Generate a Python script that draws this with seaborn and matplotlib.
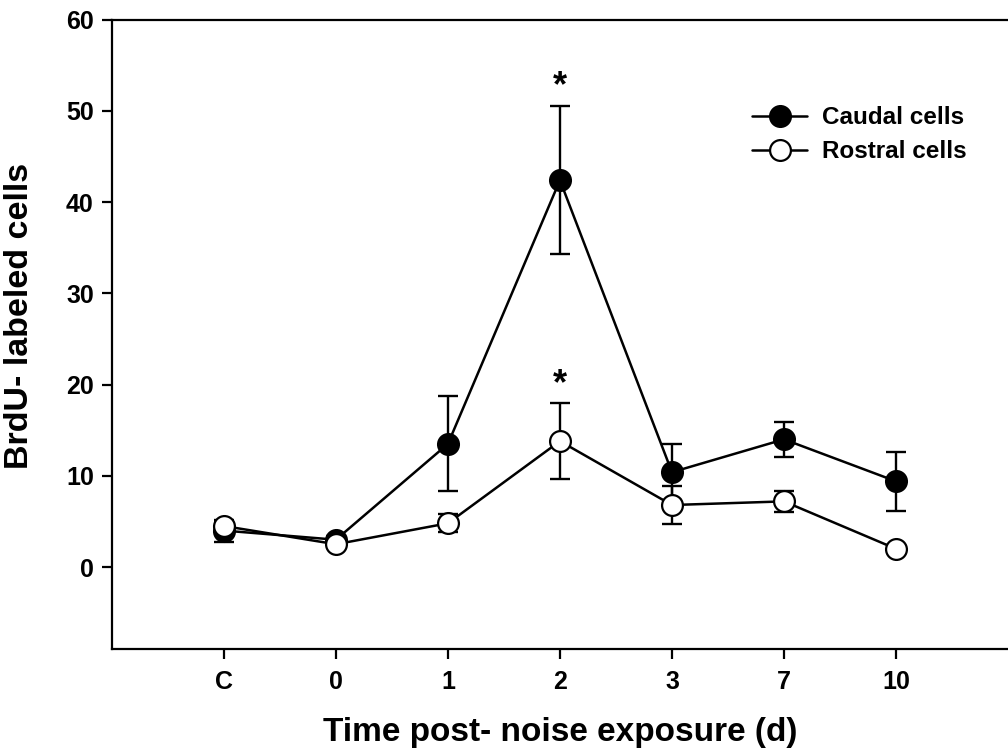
import seaborn as sns
import matplotlib.pyplot as plt
import pandas as pd
import numpy as np

# Data
days = ['C', '0', '1', '2', '3', '7', '10']
caudal = [4.0, 3.0, 13.5, 42.4, 10.4, 14.0, 9.4]
caudal_err = [1.2, 0.4, 5.2, 8.1, 3.1, 1.95, 3.2]
rostral = [4.5, 2.5, 4.8, 13.8, 6.8, 7.2, 2.0]
rostral_err = [0.6, 0.3, 1.0, 4.2, 2.1, 1.15, 0.4]
star_day = '2'
star_y = [52.6, 20.0]  # significance marks

pos = np.arange(len(days))
df = pd.DataFrame({'pos': pos, 'caudal': caudal, 'rostral': rostral})

sns.set_style('ticks')
plt.rcParams['font.family'] = ['Liberation Sans', 'DejaVu Sans']
plt.rcParams['font.weight'] = 'bold'
plt.rcParams['text.color'] = 'black'
plt.rcParams['axes.labelcolor'] = 'black'
plt.rcParams['xtick.color'] = 'black'
plt.rcParams['ytick.color'] = 'black'
plt.rcParams['axes.edgecolor'] = 'black'

fig = plt.figure(figsize=(10.08, 7.54), dpi=100)
ax = fig.add_axes([0.111, 0.139, 0.889, 0.835])

# error bars under the markers
ax.errorbar(pos, caudal, yerr=caudal_err, fmt='none', ecolor='black',
            elinewidth=1.7, capsize=7, capthick=1.7, zorder=2)
ax.errorbar(pos, rostral, yerr=rostral_err, fmt='none', ecolor='black',
            elinewidth=1.7, capsize=7, capthick=1.7, zorder=4)

sns.lineplot(data=df, x='pos', y='caudal', ax=ax, color='black', lw=1.8,
             marker='o', markersize=15, markerfacecolor='black',
             markeredgecolor='black', markeredgewidth=1.6, zorder=3,
             label='Caudal cells')
sns.lineplot(data=df, x='pos', y='rostral', ax=ax, color='black', lw=1.8,
             marker='o', markersize=15, markerfacecolor='white',
             markeredgecolor='black', markeredgewidth=1.6, zorder=5,
             label='Rostral cells')

for y in star_y:
    ax.text(days.index(star_day), y, '*', ha='center', va='center',
            fontsize=26, fontweight='bold')

ax.set_xlim(-1, 7)
ax.set_ylim(-9, 60)
ax.set_xticks(pos)
ax.set_xticklabels(days)
ax.set_yticks(range(0, 61, 10))
ax.tick_params(axis='both', labelsize=18, width=1.6, length=7, direction='out')
ax.tick_params(axis='x', pad=8)
ax.tick_params(axis='y', pad=6)
ax.spines['right'].set_visible(False)
for s in ['left', 'top', 'bottom']:
    ax.spines[s].set_linewidth(1.6)

ax.set_xlabel('Time post- noise exposure (d)', fontsize=24, fontweight='bold')
ax.set_ylabel('BrdU- labeled cells', fontsize=24.5, fontweight='bold')
ax.xaxis.set_label_coords(0.5, -0.108)
ax.yaxis.set_label_coords(-0.086, 0.529)

leg = ax.legend(loc='upper left', bbox_to_anchor=(0.704, 0.878), frameon=False,
                fontsize=17.5, handlelength=2.25, handletextpad=0.6,
                labelspacing=0.45, borderaxespad=0)
for t in leg.get_texts():
    t.set_fontweight('bold')

plt.savefig('out.png', dpi=100)
